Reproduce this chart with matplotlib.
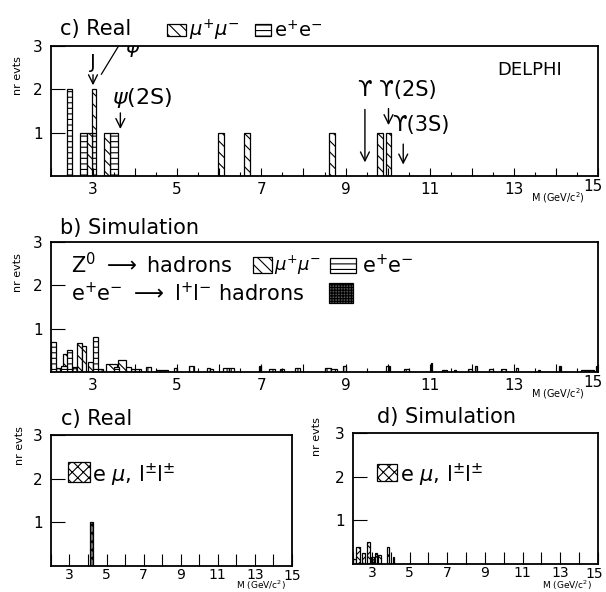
import numpy as np
import matplotlib
matplotlib.use("Agg")
import matplotlib.pyplot as plt
from matplotlib.patches import Rectangle

plt.rcParams['font.family'] = ['DejaVu Sans']
plt.rcParams['mathtext.fontset'] = 'dejavusans'
plt.rcParams['hatch.linewidth'] = 0.8

# ---- data (left edge, width, height) ----
# a) real data, mu+mu- and e+e- pairs
real_mumu_x = [2.85, 2.97, 3.27, 5.98, 6.59, 8.61, 9.75, 9.95]
real_mumu_w = [0.12, 0.11, 0.13, 0.13, 0.13, 0.13, 0.13, 0.12]
real_mumu_h = [1, 1, 1, 1, 1, 1, 1, 1]
real_mumu_b = [0, 1, 0, 0, 0, 0, 0, 0]
real_ee_x = [2.38, 2.70, 2.97, 3.40]
real_ee_w = [0.13, 0.15, 0.11, 0.20]
real_ee_h = [2, 1, 1, 1]

# b) simulation
sim_ee_x = [2.0, 2.375, 3.0, 2.25, 3.5]
sim_ee_w = [0.12, 0.125, 0.12, 0.125, 0.125]
sim_ee_h = [0.70, 0.50, 0.81, 0.15, 0.12]
sim_mumu_x = [2.28, 2.62, 2.75, 2.875, 3.3, 3.6, 3.78]
sim_mumu_w = [0.12, 0.13, 0.08, 0.12, 0.28, 0.18, 0.12]
sim_mumu_h = [0.42, 0.67, 0.60, 0.24, 0.18, 0.27, 0.12]
sim_ll_x = [2.0, 2.12, 2.5, 2.62, 3.12]
sim_ll_w = [0.12, 0.12, 0.12, 0.12, 0.12]
sim_ll_h = [0.15, 0.10, 0.12, 0.10, 0.08]
sim_bg_x = [3.12, 3.9, 4.0, 4.25, 4.5, 4.61, 4.93, 5.29, 5.7, 5.78, 6.1, 6.24,
            6.94, 7.18, 7.44, 7.8, 8.52, 8.65, 8.93, 9.96, 10.4, 11.02, 11.28,
            11.58, 11.9, 12.08, 12.4, 12.7, 13.06, 13.58, 14.08, 14.6, 14.75, 14.95]
sim_bg_w = [0.12, 0.1, 0.13, 0.12, 0.11, 0.17, 0.07, 0.12, 0.08, 0.08, 0.12, 0.1,
            0.06, 0.14, 0.1, 0.12, 0.13, 0.15, 0.07, 0.09, 0.1, 0.04, 0.12,
            0.04, 0.1, 0.04, 0.1, 0.1, 0.04, 0.04, 0.04, 0.15, 0.15, 0.05]
sim_bg_h = [0.05, 0.08, 0.07, 0.12, 0.05, 0.04, 0.10, 0.15, 0.09, 0.06, 0.09, 0.09,
            0.15, 0.06, 0.07, 0.09, 0.10, 0.08, 0.15, 0.13, 0.08, 0.20, 0.05,
            0.05, 0.08, 0.15, 0.06, 0.06, 0.10, 0.05, 0.15, 0.04, 0.05, 0.15]

# c) real, e mu and like-sign pairs
real_emu_x = [4.1]
real_emu_w = [0.16]
real_emu_h = [1]

# d) simulation, e mu and like-sign pairs
sim_emu_x = [2.0, 2.16, 2.46, 2.73, 2.95, 3.16, 3.35, 3.8, 4.1]
sim_emu_w = [0.16, 0.2, 0.18, 0.17, 0.15, 0.14, 0.15, 0.13, 0.05]
sim_emu_h = [0.12, 0.40, 0.25, 0.51, 0.17, 0.26, 0.20, 0.40, 0.15]

fig = plt.figure(figsize=(6.06, 5.92), dpi=100)
ax1 = fig.add_axes([0.084, 0.7027, 0.903, 0.2196])
ax2 = fig.add_axes([0.084, 0.3716, 0.903, 0.2196])
ax3 = fig.add_axes([0.084, 0.0439, 0.3977, 0.2213])
ax4 = fig.add_axes([0.5825, 0.0473, 0.4043, 0.2213])


def frame(ax, minor, tl, x15, ylab, pad, lsize, lva='top', msize=7):
    ax.set_xlim(2, 15)
    ax.set_ylim(0, 3)
    ax.set_xticks(np.arange(2, 16))
    ax.set_xticklabels([str(v) if (v % 2 == 1 and v < 15) else '' for v in range(2, 16)])
    if minor:
        ax.set_xticks(np.arange(2, 15.1, 0.5), minor=True)
    ax.tick_params(axis='x', which='major', direction='in', length=tl, width=0.8,
                   labelsize=lsize, pad=pad)
    ax.tick_params(axis='x', which='minor', direction='in', length=3, width=0.8)
    ax.set_yticks([1, 2, 3])
    ax.set_yticklabels(['1', '2', '3'])
    ax.tick_params(axis='y', direction='in', length=10, width=0.8, labelsize=11, pad=6)
    for s in ax.spines.values():
        s.set_linewidth(1.3)
    ax.text(x15, -0.02, '15', transform=ax.transAxes, ha='center', va='top', fontsize=lsize)
    ax.text(0.975, ylab, r'M (GeV/c$^2$)', transform=ax.transAxes, ha='right', va=lva,
            fontsize=msize)


def bars(ax, x, w, h, hatch, bottom=0, fc='white'):
    ax.bar(x, h, width=w, bottom=bottom, align='edge', facecolor=fc, edgecolor='black',
           hatch=hatch, linewidth=0.9)


def key(ax, x0, y0, w, h, hatch, fc='white'):
    ax.add_patch(Rectangle((x0, y0), w, h, transform=ax.transAxes, facecolor=fc,
                           edgecolor='black', hatch=hatch, linewidth=0.9, clip_on=False))


# ---- top panel ----
frame(ax1, True, 6, 0.99, -0.11, 4, 11)
bars(ax1, real_ee_x, real_ee_w, real_ee_h, '---')
bars(ax1, real_mumu_x, real_mumu_w, real_mumu_h, '\\\\\\', bottom=real_mumu_b)
ax1.text(0.016, 1.13, 'c) Real', transform=ax1.transAxes, fontsize=15, va='center')
key(ax1, 0.212, 1.077, 0.035, 0.09, '\\\\\\')
ax1.text(0.252, 1.12, r'$\mu^{+}\mu^{-}$', transform=ax1.transAxes, fontsize=14, va='center')
key(ax1, 0.373, 1.077, 0.03, 0.09, '---')
ax1.text(0.408, 1.12, r'e$^{+}$e$^{-}$', transform=ax1.transAxes, fontsize=14, va='center')
ax1.text(12.6, 2.45, 'DELPHI', fontsize=13, va='center')

arrow = dict(arrowstyle='->', lw=1.0, mutation_scale=16, color='black')
ax1.text(3.0, 2.62, 'J', fontsize=14, ha='center', va='center')
ax1.plot([3.2, 3.62], [2.35, 3.02], color='black', lw=0.9, clip_on=True)
ax1.text(3.95, 2.92, r'$\psi$', fontsize=15, ha='center', va='center', clip_on=True)
ax1.annotate('', xy=(3.0, 2.03), xytext=(3.0, 2.40), arrowprops=arrow)
ax1.text(3.45, 1.80, r'$\psi$(2S)', fontsize=16, va='center')
ax1.annotate('', xy=(3.65, 1.02), xytext=(3.65, 1.52), arrowprops=arrow)
ax1.text(9.30, 1.99, 'ϒ ϒ(2S)', fontsize=15, va='center')
ax1.annotate('', xy=(9.46, 0.25), xytext=(9.46, 1.60), arrowprops=arrow)
ax1.annotate('', xy=(10.02, 1.11), xytext=(10.02, 1.62), arrowprops=arrow)
ax1.text(10.1, 1.18, 'ϒ(3S)', fontsize=15, va='center')
ax1.annotate('', xy=(10.37, 0.20), xytext=(10.37, 0.80), arrowprops=arrow)
fig.text(0.03, 0.873, 'nr evts', rotation=90, fontsize=8, ha='center', va='center')

# ---- middle panel ----
frame(ax2, True, 6, 0.99, -0.11, 4, 11)
bars(ax2, sim_bg_x, sim_bg_w, sim_bg_h, '||||')
bars(ax2, sim_ll_x, sim_ll_w, sim_ll_h, '++++', fc='white')
bars(ax2, sim_mumu_x, sim_mumu_w, sim_mumu_h, '\\\\\\')
bars(ax2, sim_ee_x, sim_ee_w, sim_ee_h, '---')
ax2.text(0.016, 1.11, 'b) Simulation', transform=ax2.transAxes, fontsize=15, va='center')
ax2.text(0.036, 0.823, r'Z$^0$ $\longrightarrow$ hadrons', transform=ax2.transAxes,
         fontsize=15, va='center')
key(ax2, 0.369, 0.762, 0.035, 0.123, '\\\\\\')
ax2.text(0.407, 0.823, r'$\mu^{+}\mu^{-}$', transform=ax2.transAxes, fontsize=13, va='center')
key(ax2, 0.51, 0.762, 0.048, 0.115, '---')
ax2.text(0.569, 0.823, r'e$^{+}$e$^{-}$', transform=ax2.transAxes, fontsize=15, va='center')
ax2.text(0.036, 0.608, r'e$^{+}$e$^{-}$ $\longrightarrow$ l$^{+}$l$^{-}$ hadrons',
         transform=ax2.transAxes, fontsize=15, va='center')
key(ax2, 0.508, 0.53, 0.044, 0.155, '++++++', fc='#555555')
fig.text(0.03, 0.54, 'nr evts', rotation=90, fontsize=8, ha='center', va='center')

# ---- bottom left ----
frame(ax3, False, 9, 1.0, -0.195, 1.5, 10, lva='bottom', msize=6.5)
bars(ax3, real_emu_x, real_emu_w, real_emu_h, 'xxxx', fc='#777777')
ax3.text(0.04, 1.12, 'c) Real', transform=ax3.transAxes, fontsize=15, va='center')
key(ax3, 0.07, 0.64, 0.092, 0.154, 'xxx')
ax3.text(0.172, 0.695, r'e $\mu$, l$^{\pm}$l$^{\pm}$', transform=ax3.transAxes,
         fontsize=15, va='center')
fig.text(0.033, 0.248, 'nr evts', rotation=90, fontsize=8, ha='center', va='center')

# ---- bottom right ----
frame(ax4, False, 9, 0.985, -0.21, 1.5, 10, lva='bottom', msize=6.5)
bars(ax4, sim_emu_x, sim_emu_w, sim_emu_h, 'xxx')
ax4.text(0.1, 1.12, 'd) Simulation', transform=ax4.transAxes, fontsize=15, va='center')
key(ax4, 0.098, 0.63, 0.082, 0.13, 'xxx')
ax4.text(0.19, 0.68, r'e $\mu$, l$^{\pm}$l$^{\pm}$', transform=ax4.transAxes,
         fontsize=15, va='center')
fig.text(0.523, 0.262, 'nr evts', rotation=90, fontsize=8, ha='center', va='center')

fig.savefig('out.png', dpi=100)
